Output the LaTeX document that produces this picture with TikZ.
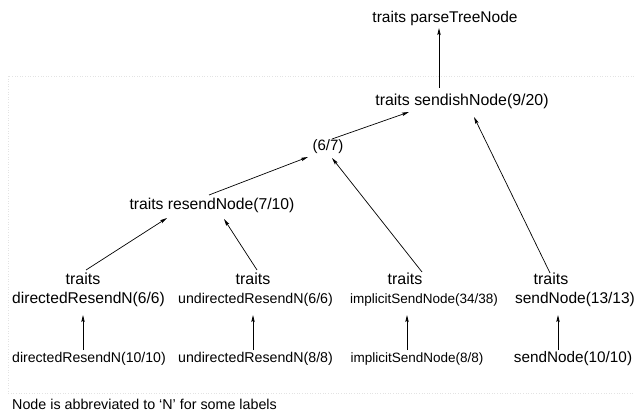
\documentclass[tikz,border=0pt]{standalone}
\usepackage{fontspec}
\setmainfont{Liberation Sans}
\usetikzlibrary{arrows.meta}
\tikzset{
  lbl/.style={inner sep=0pt, text height=0.72em, text depth=0.21em, font=\fontsize{#1}{#1}\selectfont},
  trt/.style={inner sep=0pt, text height=0.72em, text depth=0em, font=\fontsize{#1}{#1}\selectfont},
  arr/.style={line width=0.7pt, -{Stealth[length=7pt,width=3.4pt,inset=1.2pt]}},
  frame/.style={gray!22, dotted, line width=0.6pt}
}
\begin{document}
\begin{tikzpicture}[x=1pt,y=-1pt]
\clip (0,0) rectangle (634,414);
\draw[frame] (8,76) rectangle (680,393);
% upper nodes
\node[lbl=15.5] (ptn) at (445,20) {traits parseTreeNode};
\node[lbl=15.9] (send) at (462,103) {traits sendishNode(9/20)};
\node[lbl=15] (six) at (328,148) {(6/7)};
\node[lbl=15.7] (resend) at (212,207) {traits resendNode(7/10)};
% traits row
\node[trt=16] (t1) at (83,281) {traits};
\node[trt=16] (t2) at (253,281) {traits};
\node[trt=16] (t3) at (405,281) {traits};
\node[trt=16] (t4) at (551,281) {traits};
% second line row
\node[lbl=15.6] (m1) at (88.5,301) {directedResendN(6/6)};
\node[lbl=14.2] (m2) at (255.5,301) {undirectedResendN(6/6)};
\node[lbl=13.5] (m3) at (424,301) {implicitSendNode(34/38)};
\node[lbl=15.5] (m4) at (575,301) {sendNode(13/13)};
% bottom row
\node[lbl=14.1] (b1) at (89,360) {directedResendN(10/10)};
\node[lbl=14.2] (b2) at (255.5,360) {undirectedResendN(8/8)};
\node[lbl=13.5] (b3) at (417,360) {implicitSendNode(8/8)};
\node[lbl=15.3] (b4) at (573,360) {sendNode(10/10)};
% footer
\node[lbl=14.3, anchor=west] (foot) at (12,407) {Node is abbreviated to ‘N’ for some labels};
% connectors
\draw[arr] ([shift={(-23,-15)}]send.center) -- ([shift={(-6,8)}]ptn.center);
\draw[arr] ([shift={(4,-9)}]six.center) -- ([shift={(-53,9)}]send.center);
\draw[arr] ([shift={(-3,-12)}]resend.center) -- ([shift={(-20,9)}]six.center);
\draw[arr] ([shift={(17,-9)}]t3.center) -- ([shift={(4,10)}]six.center);
\draw[arr] ([shift={(-1,-8)}]t4.center) -- ([shift={(12,14)}]send.center);
\draw[arr] ([shift={(3,-11)}]t1.center) -- ([shift={(-45,11)}]resend.center);
\draw[arr] ([shift={(4,-11)}]t2.center) -- ([shift={(12,12)}]resend.center);
\draw[arr] ([shift={(-6,-10)}]b1.center) -- ([shift={(-5.5,14)}]m1.center);
\draw[arr] ([shift={(-2.5,-10)}]b2.center) -- ([shift={(-2.5,14)}]m2.center);
\draw[arr] ([shift={(-10,-10)}]b3.center) -- ([shift={(-17,14)}]m3.center);
\draw[arr] ([shift={(-15,-10)}]b4.center) -- ([shift={(-17,14)}]m4.center);
\end{tikzpicture}
\end{document}
